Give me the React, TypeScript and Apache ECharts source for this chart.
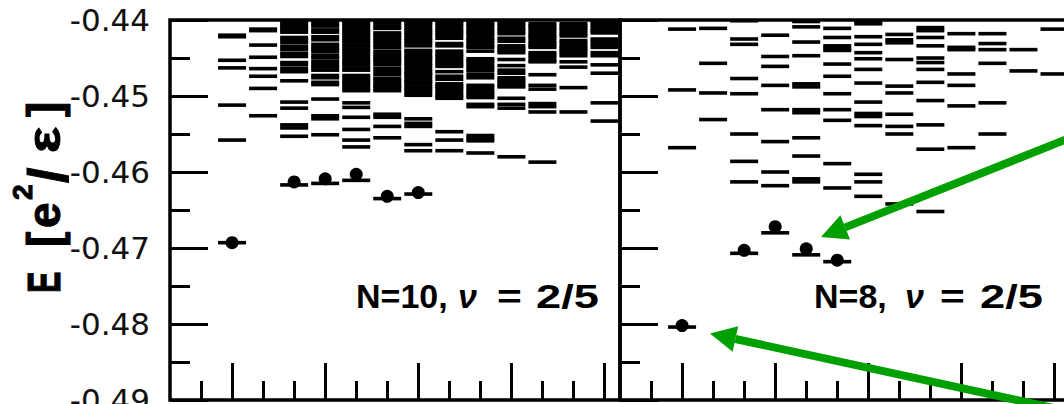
import React, { useEffect, useRef } from "react";
import * as echarts from "echarts";

// momentum index of each column of levels
const momenta = [1, 2, 3, 4, 5, 6, 7, 8, 9, 10, 11, 12, 13];

// y axis (energy) range and tick labels
const yMin = -0.49;
const yMax = -0.44;
const yStep = 0.01;
const longTickL = [1, 4, 7, 10, 13];
const shortTickL = [0, 2, 3, 5, 6, 8, 9, 11, 12];

// N=10 spectrum: excited levels per momentum column
const n10Levels: number[][] = [
  [-0.442, -0.4422, -0.4453, -0.4463, -0.4512, -0.4558],
  [-0.4412, -0.4414, -0.4433, -0.4449, -0.4464, -0.4474, -0.449, -0.4526],
  [-0.4401, -0.4403, -0.4407, -0.441, -0.4413, -0.4416, -0.4423, -0.4426, -0.443, -0.4435, -0.4439, -0.4444, -0.4448, -0.4456, -0.4459, -0.4464, -0.4468, -0.448, -0.4508, -0.4516, -0.4538, -0.4542, -0.4553],
  [-0.4401, -0.4405, -0.4408, -0.4413, -0.4416, -0.4422, -0.4426, -0.4432, -0.4436, -0.4439, -0.4442, -0.4447, -0.445, -0.4455, -0.4459, -0.4462, -0.4466, -0.4473, -0.4476, -0.4482, -0.4485, -0.4504, -0.4526, -0.453, -0.4551],
  [-0.4401, -0.4404, -0.4407, -0.4411, -0.4414, -0.4417, -0.442, -0.4424, -0.4427, -0.443, -0.4434, -0.4438, -0.4441, -0.4445, -0.4449, -0.4453, -0.4456, -0.4459, -0.4463, -0.4466, -0.4473, -0.4476, -0.448, -0.4483, -0.4486, -0.449, -0.4493, -0.4509, -0.4515, -0.4528, -0.4544, -0.4558, -0.4567],
  [-0.4401, -0.4404, -0.4408, -0.4411, -0.4417, -0.442, -0.4424, -0.4428, -0.4432, -0.4436, -0.4441, -0.4445, -0.4449, -0.4452, -0.4455, -0.4459, -0.4464, -0.4468, -0.4472, -0.4477, -0.448, -0.4484, -0.4487, -0.449, -0.4493, -0.4524, -0.4528, -0.454, -0.4555],
  [-0.4401, -0.4404, -0.4407, -0.4411, -0.4414, -0.4417, -0.442, -0.4424, -0.4427, -0.443, -0.4434, -0.444, -0.4443, -0.4447, -0.445, -0.4453, -0.4457, -0.446, -0.4464, -0.4468, -0.4471, -0.4474, -0.4478, -0.4481, -0.4484, -0.4488, -0.4491, -0.4495, -0.4499, -0.453, -0.4536, -0.454, -0.4564, -0.4572],
  [-0.4401, -0.4404, -0.4407, -0.4411, -0.4414, -0.4417, -0.442, -0.4424, -0.4431, -0.4434, -0.4441, -0.4445, -0.4448, -0.4451, -0.4455, -0.4458, -0.4461, -0.4468, -0.4474, -0.4478, -0.4484, -0.4487, -0.449, -0.4493, -0.4497, -0.45, -0.4503, -0.4547, -0.4558, -0.4572],
  [-0.4401, -0.4404, -0.4407, -0.4411, -0.4414, -0.4417, -0.442, -0.4424, -0.4427, -0.443, -0.4434, -0.4436, -0.4441, -0.4451, -0.4454, -0.4457, -0.4461, -0.4464, -0.4467, -0.4472, -0.4476, -0.4486, -0.4489, -0.4493, -0.4496, -0.4499, -0.4502, -0.4511, -0.4514, -0.4552, -0.4556, -0.4559, -0.4575],
  [-0.4401, -0.4404, -0.4407, -0.4411, -0.4414, -0.4418, -0.4424, -0.4428, -0.4434, -0.4437, -0.444, -0.4443, -0.4452, -0.446, -0.4466, -0.447, -0.4476, -0.4479, -0.4482, -0.4486, -0.4488, -0.4503, -0.4511, -0.4516, -0.458],
  [-0.4405, -0.4408, -0.4411, -0.4414, -0.4418, -0.4421, -0.4424, -0.4428, -0.4431, -0.4434, -0.4436, -0.4443, -0.4446, -0.4449, -0.4453, -0.4455, -0.4472, -0.4486, -0.4491, -0.451, -0.4514, -0.4521, -0.4587],
  [-0.4405, -0.4408, -0.4411, -0.4414, -0.4418, -0.4421, -0.4427, -0.443, -0.4434, -0.4437, -0.444, -0.4443, -0.4447, -0.4455, -0.4462, -0.4489, -0.4521],
  [-0.4401, -0.4404, -0.4407, -0.4411, -0.4414, -0.4417, -0.4425, -0.4428, -0.4432, -0.4436, -0.4443, -0.4447, -0.4459, -0.447, -0.4509, -0.4533],
];
// N=10 lowest states (marked with dots)
const n10DotL = [1, 3, 4, 5, 6, 7];
const n10DotLineE = [-0.4693, -0.4617, -0.4615, -0.4611, -0.4635, -0.4629];
const n10DotE = [-0.4693, -0.4613, -0.4609, -0.4603, -0.4632, -0.4627];

// N=8 spectrum
const n8Levels: number[][] = [
  [-0.4412, -0.4492, -0.4568],
  [-0.4411, -0.4457, -0.4496, -0.4531],
  [-0.4401, -0.4425, -0.4432, -0.4477, -0.4497, -0.455, -0.4586, -0.4613],
  [-0.442, -0.4448, -0.4461, -0.4486, -0.4518, -0.456, -0.46, -0.4618],
  [-0.4402, -0.4409, -0.4429, -0.4447, -0.4484, -0.4488, -0.4518, -0.4522, -0.4555, -0.4579, -0.4609, -0.4613],
  [-0.4411, -0.4423, -0.4434, -0.4437, -0.444, -0.4458, -0.4474, -0.4497, -0.4518, -0.4532, -0.4589, -0.4621],
  [-0.4402, -0.4405, -0.4422, -0.4432, -0.4443, -0.4451, -0.4465, -0.4483, -0.4508, -0.4523, -0.4527, -0.4539, -0.4603, -0.4613, -0.4632],
  [-0.4419, -0.4426, -0.443, -0.4452, -0.4487, -0.4496, -0.4524, -0.454, -0.455, -0.4642],
  [-0.441, -0.4414, -0.4423, -0.4434, -0.445, -0.4456, -0.4465, -0.4482, -0.4506, -0.4538, -0.457, -0.4652],
  [-0.4418, -0.4436, -0.4439, -0.4471, -0.4486, -0.4513, -0.4568],
  [-0.4418, -0.4431, -0.4439, -0.4457, -0.4509, -0.455],
  [-0.4439, -0.4467],
  [-0.4412, -0.4471],
];
const n8DotL = [1, 3, 4, 5, 6];
const n8DotLineE = [-0.4804, -0.4707, -0.468, -0.4709, -0.4718];
const n8DotE = [-0.4802, -0.4703, -0.4672, -0.4701, -0.4716];

const GREEN = "#00a000";
const FONT_SANS = '"Liberation Sans", Arial, sans-serif';

function levelData(levels: number[][], dotL: number[], dotLineE: number[]) {
  const out: number[][] = [];
  levels.forEach((col, i) => col.forEach((e) => out.push([momenta[i], e])));
  dotL.forEach((l, i) => out.push([l, dotLineE[i]]));
  return out;
}
function dotData(dotL: number[], dotE: number[]) {
  return dotL.map((l, i) => [l, dotE[i]]);
}

function xAxisFor(gridIndex: number, values: number[], len: number) {
  return {
    type: "value",
    gridIndex,
    position: "bottom",
    offset: 0,
    min: -1,
    max: 13.5,
    interval: 1,
    axisLine: { show: false, onZero: false },
    splitLine: { show: false },
    axisLabel: { show: false },
    axisTick: {
      show: true,
      inside: true,
      length: len,
      customValues: values,
      lineStyle: { color: "#000", width: 3 },
    },
  };
}
function yAxisFor(gridIndex: number) {
  return {
    type: "value",
    gridIndex,
    position: "left",
    min: yMin,
    max: yMax,
    interval: yStep,
    axisLine: { show: false, onZero: false },
    splitLine: { show: false },
    axisTick: { show: true, inside: true, length: 38, lineStyle: { color: "#000", width: 3 } },
    minorTick: { show: true, splitNumber: 2, length: 20, lineStyle: { color: "#000", width: 3 } },
    minorSplitLine: { show: false },
    axisLabel: {
      show: gridIndex === 0,
      margin: 20,
      fontSize: 31,
      fontFamily: '"DejaVu Sans", sans-serif',
      color: "#111",
      formatter: (v: number) => v.toFixed(2),
    },
  };
}

function labelTexts(xs: number[], first: string) {
  const y = 296;
  const base = { fill: "#000", verticalAlign: "middle", align: "left" };
  return [
    { type: "text", x: xs[0], y, z: 50, style: { ...base, text: first, font: `bold 34px ${FONT_SANS}` } },
    { type: "text", x: xs[1], y, z: 50, style: { ...base, text: "ν", font: `italic bold 34px ${FONT_SANS}` } },
    { type: "text", x: xs[2], y, z: 50, scaleX: 1.25, style: { ...base, text: "=", font: `bold 34px ${FONT_SANS}` } },
    { type: "text", x: xs[3], y, z: 50, scaleX: 1.33, style: { ...base, text: "2/5", font: `bold 34px ${FONT_SANS}` } },
  ];
}

function arrow(tail: number[], base: number[], tip: number[], c1: number[], c2: number[]) {
  return [
    {
      type: "line",
      z: 100,
      shape: { x1: tail[0], y1: tail[1], x2: base[0], y2: base[1] },
      style: { stroke: GREEN, lineWidth: 8, lineCap: "butt" },
    },
    {
      type: "polygon",
      z: 100,
      shape: { points: [tip, c1, c2] },
      style: { fill: GREEN },
    },
  ];
}

const gridBase = {
  top: 20,
  width: 450,
  height: 380,
  show: true,
  borderColor: "#000",
  borderWidth: 3.5,
  backgroundColor: "transparent",
  containLabel: false,
  outerBoundsMode: "none",
};

export default function App() {
  const ref = useRef<HTMLDivElement>(null);
  useEffect(() => {
    document.body.style.margin = "0";
    if (!ref.current) return;
    const chart = echarts.init(ref.current, undefined, { renderer: "svg" });
    const titleFont = `bold 46px ${FONT_SANS}`;
    const tStyle = (text: string, font = titleFont) => ({
      text,
      font,
      fill: "#000",
      stroke: "#000",
      lineWidth: 1,
      verticalAlign: "middle",
    });
    const option: any = {
      animation: false,
      backgroundColor: "#fff",
      grid: [
        { ...gridBase, left: 170 },
        { ...gridBase, left: 620 },
      ],
      xAxis: [
        xAxisFor(0, shortTickL, 19),
        xAxisFor(0, longTickL, 37),
        xAxisFor(1, shortTickL, 19),
        xAxisFor(1, longTickL, 37),
      ],
      yAxis: [yAxisFor(0), yAxisFor(1)],
      series: [
        {
          type: "scatter",
          xAxisIndex: 0,
          yAxisIndex: 0,
          symbol: "rect",
          symbolSize: [28, 3.6],
          silent: true,
          itemStyle: { color: "#000", opacity: 1 },
          data: levelData(n10Levels, n10DotL, n10DotLineE),
        },
        {
          type: "scatter",
          xAxisIndex: 0,
          yAxisIndex: 0,
          symbol: "circle",
          symbolSize: 13,
          silent: true,
          itemStyle: { color: "#000", opacity: 1 },
          data: dotData(n10DotL, n10DotE),
        },
        {
          type: "scatter",
          xAxisIndex: 2,
          yAxisIndex: 1,
          symbol: "rect",
          symbolSize: [28, 3.6],
          silent: true,
          itemStyle: { color: "#000", opacity: 1 },
          data: levelData(n8Levels, n8DotL, n8DotLineE),
        },
        {
          type: "scatter",
          xAxisIndex: 2,
          yAxisIndex: 1,
          symbol: "circle",
          symbolSize: 13,
          silent: true,
          itemStyle: { color: "#000", opacity: 1 },
          data: dotData(n8DotL, n8DotE),
        },
      ],
      graphic: [
        {
          type: "group",
          x: 60,
          y: 293,
          rotation: Math.PI / 2,
          children: [
            { type: "text", x: 0, y: -16, scaleX: 0.7, style: tStyle("E") },
            { type: "text", x: 46, y: -16, style: tStyle("[") },
            { type: "text", x: 65, y: -16, style: tStyle("e") },
            { type: "text", x: 93, y: -38, style: tStyle("2", `bold 28px ${FONT_SANS}`) },
            { type: "text", x: 110, y: -13, style: tStyle("/", `bold 56px ${FONT_SANS}`) },
            { type: "text", x: 140, y: -16, scaleX: 1.2, style: tStyle("ε") },
            { type: "text", x: 176, y: -16, style: tStyle("]") },
          ],
        },
        ...labelTexts([356, 458, 497, 536], "N=10,"),
        ...labelTexts([814, 905, 940, 980], "N=8,"),
        ...arrow([1120, 118], [845.2, 227.4], [821, 237], [850, 239.5], [840.4, 215.3]),
        ...arrow([1120, 422.5], [735.4, 339], [710, 333.5], [738.2, 326.3], [732.6, 351.7]),
      ],
    };
    chart.setOption(option);
    return () => chart.dispose();
  }, []);
  return <div ref={ref} style={{ width: 1064, height: 404 }} />;
}
